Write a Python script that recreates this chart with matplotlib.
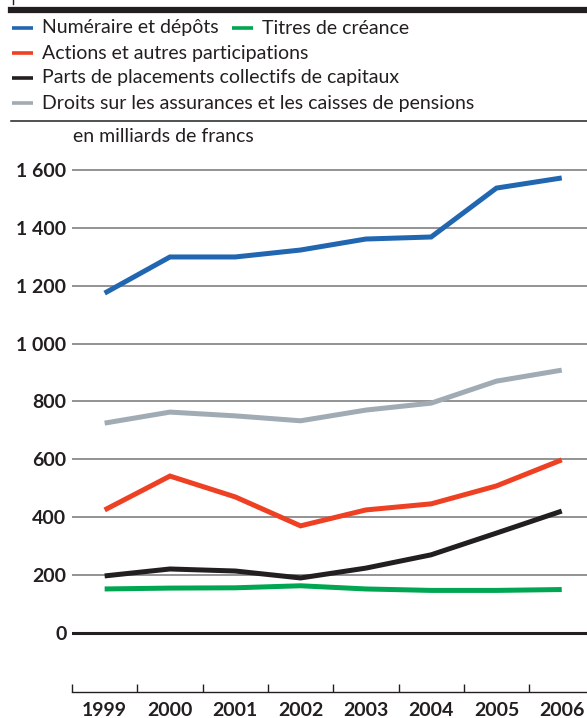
import numpy as np
import matplotlib.pyplot as plt
from matplotlib.lines import Line2D
from matplotlib.ticker import FixedLocator, FuncFormatter

plt.rcParams['font.family'] = ['Lato', 'DejaVu Sans']

years = [1999, 2000, 2001, 2002, 2003, 2004, 2005, 2006]
numeraire = [1174, 1299, 1299, 1323, 1361, 1368, 1537, 1572]
titres = [152, 155, 156, 163, 152, 147, 147, 150]
actions = [425, 542, 470, 370, 425, 446, 508, 598]
parts = [197, 221, 214, 190, 224, 270, 345, 421]
droits = [725, 763, 750, 733, 770, 794, 870, 908]

labels = ['Numéraire et dépôts', 'Titres de créance',
          'Actions et autres participations',
          'Parts de placements collectifs de capitaux',
          'Droits sur les assurances et les caisses de pensions']
colors = ['#2166b0', '#00a651', '#ee4023', '#231f20', '#a0abb4']
yticks = [0, 200, 400, 600, 800, 1000, 1200, 1400, 1600]

W, H = 587, 718
fig = plt.figure(figsize=(W / 100, H / 100), dpi=100)
ax = fig.add_axes([72 / W, 26 / H, 515 / W, 532 / H])

x = np.arange(len(years))
series = [numeraire, titres, actions, parts, droits]
order = [4, 2, 3, 1, 0]
for i in order:
    ax.plot(x, series[i], color=colors[i], lw=3.6, solid_capstyle='butt',
            solid_joinstyle='miter', zorder=3)

ax.set_xlim(-0.5, -0.5 + 515 / 65.3)
ax.set_ylim(-204, 1634)

for v in yticks[1:]:
    ax.axhline(v, color='#808080', lw=1.2, zorder=1)
ax.axhline(0, color='#231f20', lw=2.2, zorder=2)

ax.yaxis.set_major_locator(FixedLocator(yticks))
ax.yaxis.set_major_formatter(FuncFormatter(lambda v, p: f'{int(v):,}'.replace(',', ' ')))
ax.tick_params(axis='y', length=0, pad=4, labelsize=14)
for t in ax.get_yticklabels():
    t.set_fontweight('bold')
    t.set_color('#231f20')

ax.set_xticks(x)
ax.set_xticklabels([str(y) for y in years], fontweight='bold', fontsize=14, color='#231f20')
ax.set_xticks(np.arange(len(years)) - 0.5, minor=True)
ax.tick_params(axis='x', which='major', length=0, pad=7)
ax.tick_params(axis='x', which='minor', direction='in', length=6, width=1, color='#231f20')

for s in ['top', 'right', 'left']:
    ax.spines[s].set_visible(False)
ax.spines['bottom'].set_color('#231f20')
ax.spines['bottom'].set_linewidth(1)

# header bar and legend
fig.add_artist(Line2D([11 / W, 1], [1 - 10 / H] * 2, color='#231f20', lw=4.5))
fig.add_artist(Line2D([12.5 / W] * 2, [1, 1 - 4 / H], color='#231f20', lw=1))
fig.add_artist(Line2D([11 / W, 1], [1 - 121 / H] * 2, color='#231f20', lw=1.1))

legend_pos = [(12, 28), (232, 28), (12, 53), (12, 78), (12, 103)]
for (lx, ly), lab, c in zip(legend_pos, labels, colors):
    fig.add_artist(Line2D([lx / W, (lx + 21) / W], [1 - ly / H] * 2, color=c, lw=2.6,
                          solid_capstyle='butt'))
    fig.text((lx + 30) / W, 1 - ly / H, lab, fontsize=14, color='#231f20',
             va='center', ha='left')

fig.text(73 / W, 1 - 136 / H, 'en milliards de francs', fontsize=14,
         color='#231f20', va='center', ha='left')

fig.savefig('out.png', dpi=100)
